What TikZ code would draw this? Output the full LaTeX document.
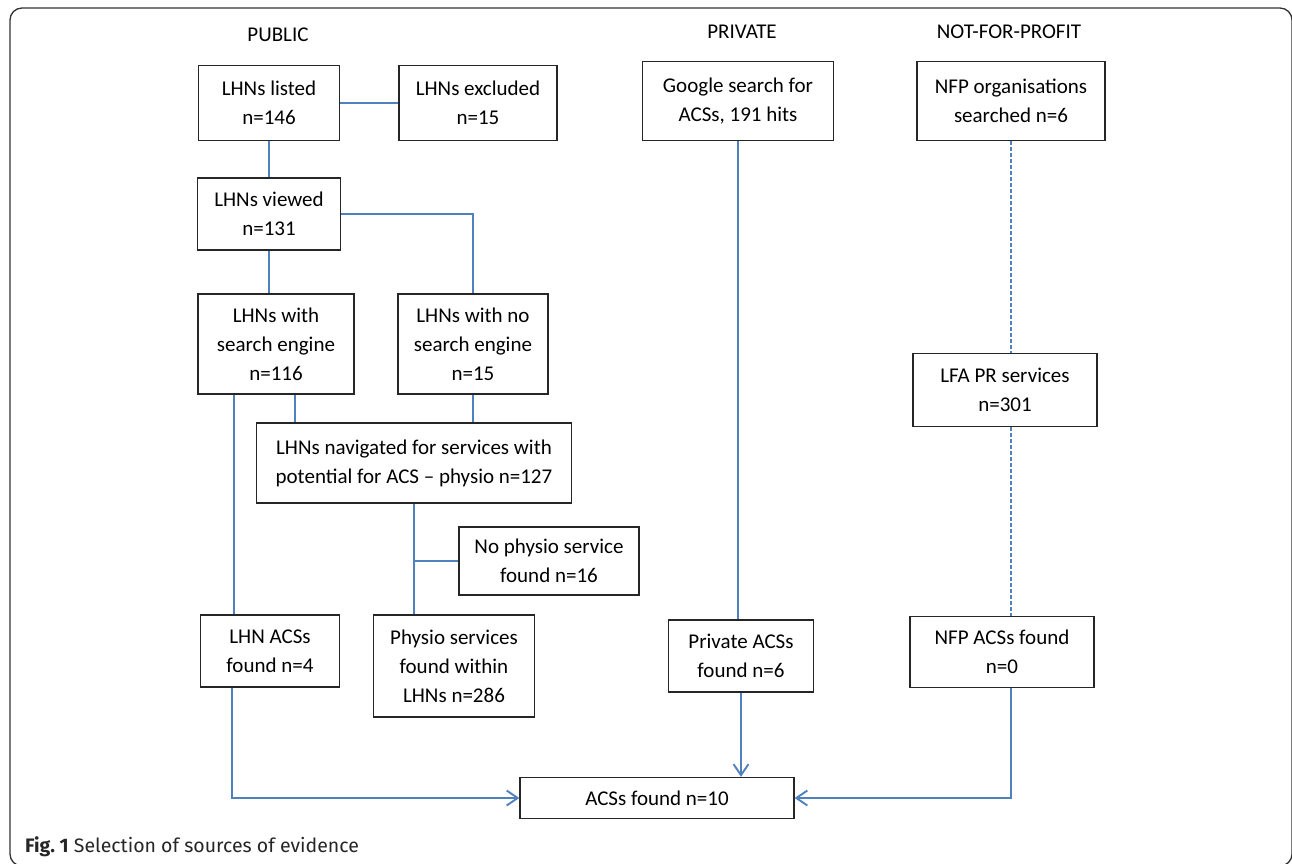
\documentclass[tikz,border=0pt]{standalone}
\usepackage{fontspec}
\setmainfont{Carlito}
\newfontfamily\capfont{Fira Sans}
\usepackage{tikz}
\usetikzlibrary{arrows.meta, positioning}
\definecolor{linkblue}{RGB}{79,129,189}
\definecolor{framegrey}{RGB}{50,50,50}

\begin{document}
\begin{tikzpicture}[x=1pt, y=-1pt,
    box/.style={draw=black!85, line width=1.3pt, fill=white, align=center, inner sep=0pt, font=\fontsize{21}{29}\selectfont},
    head/.style={font=\fontsize{21}{24}\selectfont},
    link/.style={draw=linkblue, line width=1.9pt},
    dlink/.style={draw=linkblue, line width=1.2pt, dash pattern=on 4pt off 2pt},
    arr/.style={link, -{Straight Barb[length=11pt, width=15pt]}}]
  \useasboundingbox (0,0) rectangle (1292,864);
  \draw[framegrey, line width=1.3pt, rounded corners=12pt] (10,8) rectangle (1292,866);

  % column headings
  \node[head] (hpub) at (278,35) {PUBLIC};
  \node[head] (hpriv) at (742,32) {PRIVATE};
  \node[head] (hnfp) at (1009,32) {NOT-FOR-PROFIT};

  % public
  \node[box, minimum width=141, minimum height=75] (listed) at (269,103) {LHNs listed\\n=146};
  \node[box, minimum width=158, minimum height=75] (excl) at (478,103) {LHNs excluded\\n=15};
  \node[box, minimum width=143, minimum height=72] (viewed) at (269,214) {LHNs viewed\\n=131};
  \node[box, minimum width=156, minimum height=100] (withse) at (276,344) {LHNs with\\search engine\\n=116};
  \node[box, minimum width=150, minimum height=100] (nose) at (473,344) {LHNs with no\\search engine\\n=15};
  \node[box, minimum width=315, minimum height=80] (navig) at (414,463) {LHNs navigated for services with\\potential for ACS -- physio n=127};
  \node[box, minimum width=180, minimum height=68] (nophys) at (549,561) {No physio service\\found n=16};
  \node[box, minimum width=139, minimum height=72] (lhnacs) at (270,651) {LHN ACSs\\found n=4};
  \node[box, minimum width=161, minimum height=102] (physio) at (454,666) {Physio services\\found within\\LHNs n=286};

  % private
  \node[box, minimum width=191, minimum height=79] (google) at (738,101) {Google search for\\ACSs, 191 hits};
  \node[box, minimum width=145, minimum height=72] (privacs) at (741,656) {Private ACSs\\found n=6};

  % not-for-profit
  \node[box, minimum width=188, minimum height=79] (nfporg) at (1011,101) {NFP organisations\\searched n=6};
  \node[box, minimum width=184, minimum height=73] (lfa) at (1005,390) {LFA PR services\\n=301};
  \node[box, minimum width=184, minimum height=71] (nfpacs) at (1002,652) {NFP ACSs found\\n=0};

  \node[box, minimum width=274, minimum height=41] (acs) at (657,798) {ACSs found n=10};

  % connectors
  \draw[link] (listed.east) -- (excl.west);
  \draw[link] (listed.south) -- (viewed.north);
  \draw[link] (viewed.east) -| (nose.north);
  \draw[link] (viewed.south) -- (viewed.south |- withse.north);
  \draw[link] ([xshift=19pt]withse.south) -- ([xshift=19pt]withse.south |- navig.north);
  \draw[link] (nose.south) -- (nose.south |- navig.north);
  \draw[link] ([xshift=-42pt]withse.south) -- ([xshift=-42pt]withse.south |- lhnacs.north);
  \draw[link] (navig.south) -- (navig.south |- physio.north);
  \draw[link] (navig.south |- nophys.west) -- (nophys.west);
  \draw[link] (google.south) -- (google.south |- privacs.north);
  \draw[dlink] (nfporg.south) -- (nfporg.south |- lfa.north);
  \draw[dlink] (nfporg.south |- lfa.south) -- (nfporg.south |- nfpacs.north);
  \draw[arr] (privacs.south) -- (privacs.south |- acs.north);
  \draw[arr] ([xshift=-38pt]lhnacs.south) |- (acs.west);
  \draw[arr] ([xshift=9pt]nfpacs.south) |- (acs.east);

  % caption
  \node[anchor=base west, font=\capfont\fontsize{19.5}{24}\selectfont, text=black!85, inner sep=0pt] (cap) at (25,852) {\textbf{Fig.~1} Selection of sources of evidence};
\end{tikzpicture}
\end{document}
